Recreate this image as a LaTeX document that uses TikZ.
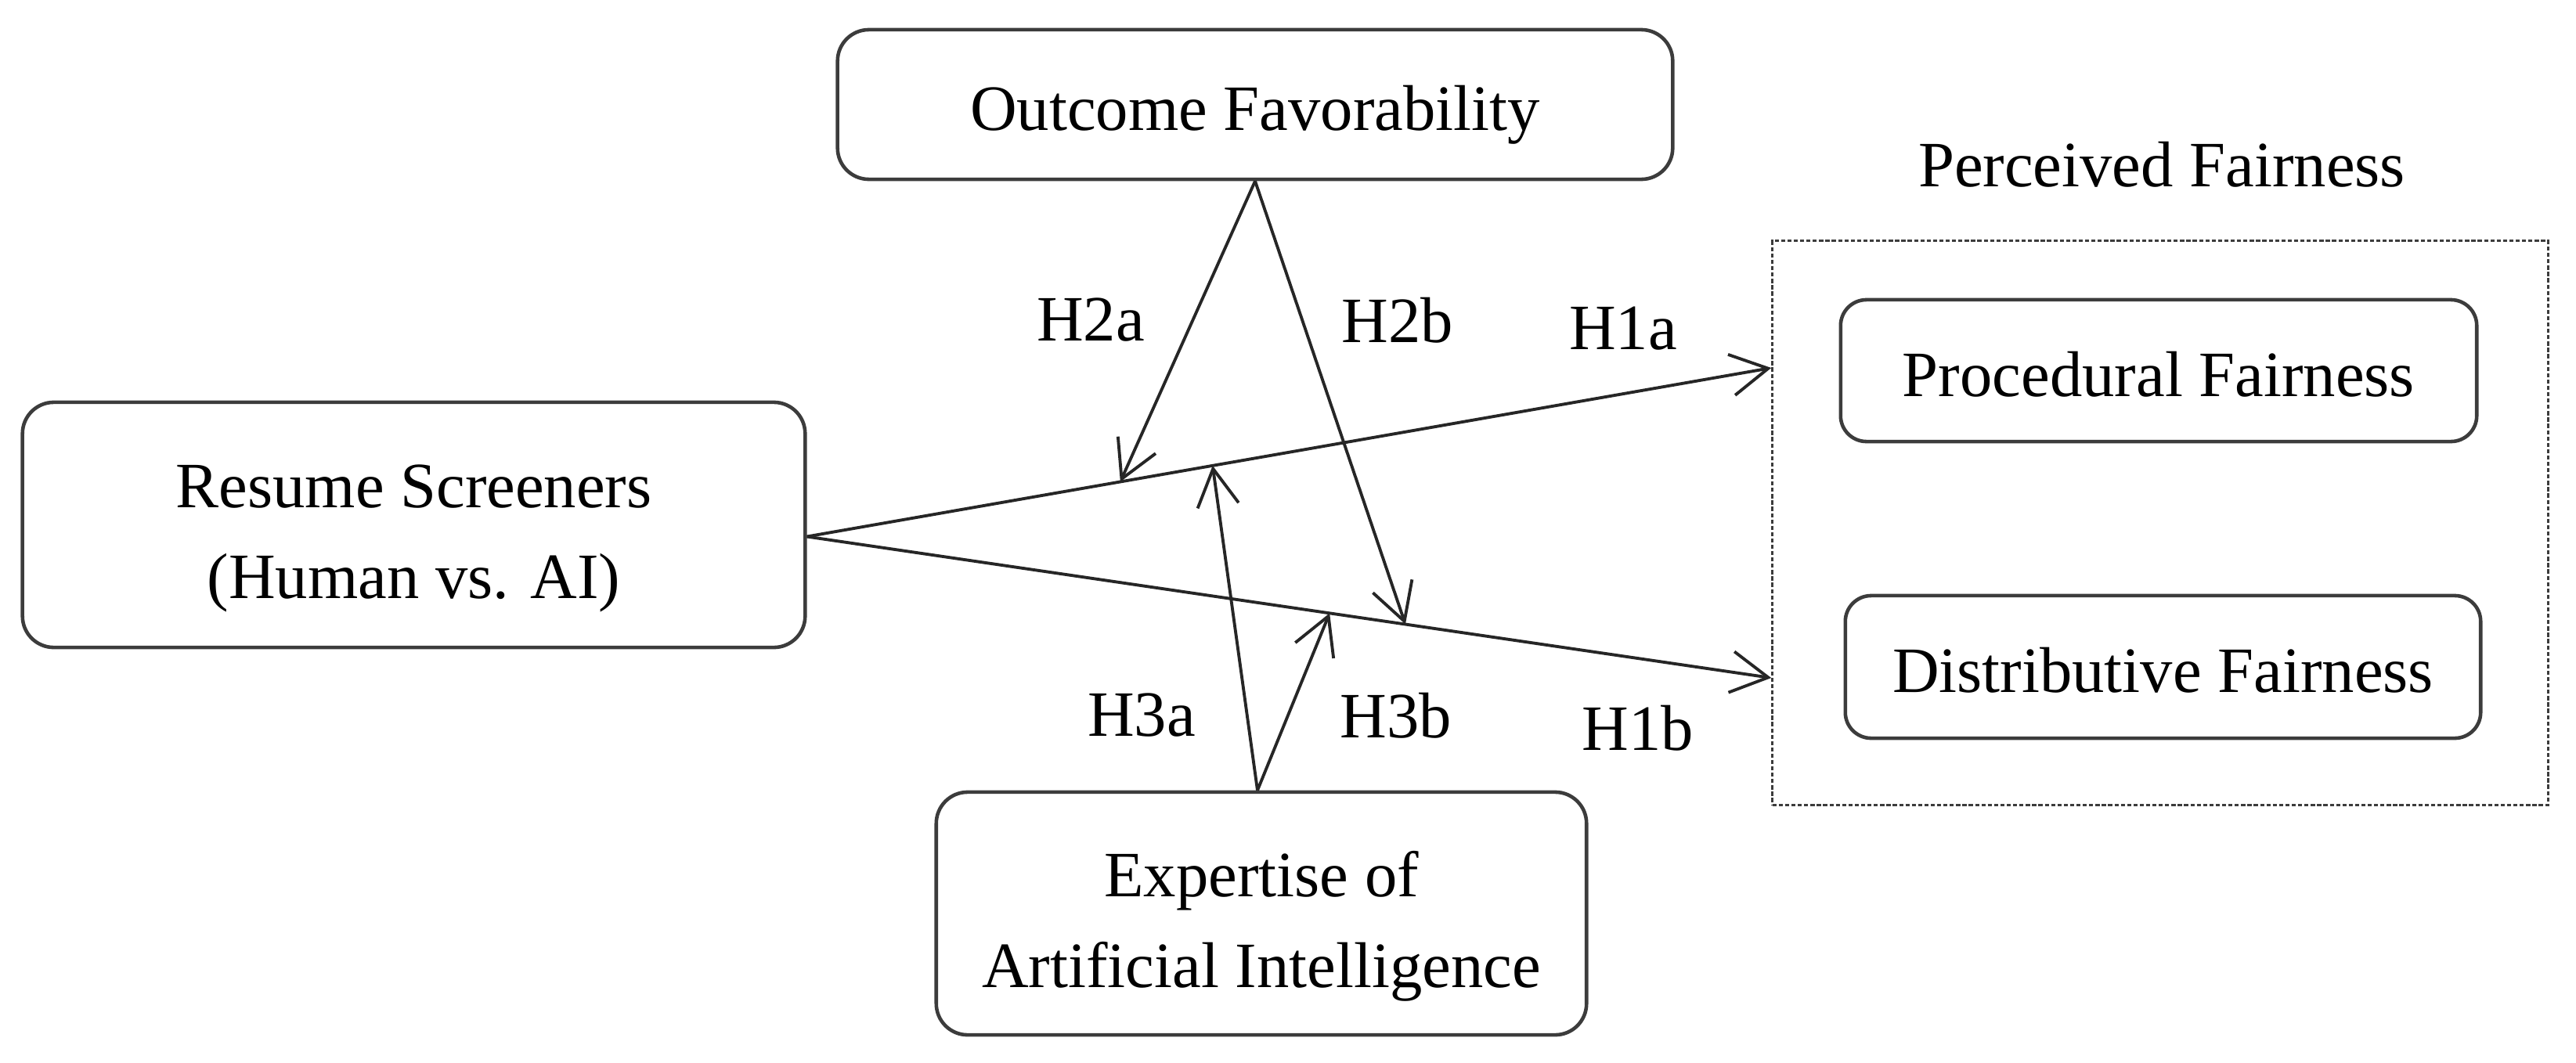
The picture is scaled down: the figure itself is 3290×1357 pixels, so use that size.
\documentclass[tikz,border=0pt]{standalone}
\usepackage{fontspec}
\setmainfont{Liberation Serif}
\usetikzlibrary{arrows.meta,calc}
\definecolor{edgegray}{HTML}{3C3C3C}
\begin{document}
\tikzset{
  box/.style={draw=edgegray, line width=1.3pt, rounded corners=0.4cm, align=center, inner sep=0pt,
    font=\fontsize{23.5}{33}\selectfont},
  onebox/.style={box, text height=18.5pt, text depth=0pt},
  twobox/.style={box, text height=53.5pt, text depth=0pt},
  smallbox/.style={onebox, rounded corners=0.33cm},
  groupbox/.style={draw=edgegray, line width=0.85pt, dash pattern=on 1.5pt off 0.8pt, inner sep=0pt},
  lbl/.style={font=\fontsize{23.5}{28}\selectfont, inner sep=0pt},
  arr/.style={draw=black!85, line width=1.1pt, -{Straight Barb[length=13.5pt,width=15pt]}},
}
\begin{tikzpicture}[x=0.01cm,y=-0.01cm]
\useasboundingbox (0,0) rectangle (3290,1357);
% boxes
\node[onebox, minimum width=10.66cm, minimum height=1.91cm] (OF) at (1603,133.5) {Outcome Favorability};
\node[twobox, minimum width=9.99cm, minimum height=3.13cm] (RS) at (528.5,670.5) {Resume Screeners\\(Human vs. AI)};
\node[twobox, minimum width=8.30cm, minimum height=3.10cm] (EX) at (1611,1167) {Expertise of\\Artificial Intelligence};
\node[groupbox, minimum width=9.90cm, minimum height=7.20cm] (PF) at (2759,668) {};
\node[smallbox, minimum width=8.12cm, minimum height=1.81cm] (PROC) at (2757,473.5) {Procedural Fairness};
\node[smallbox, minimum width=8.11cm, minimum height=1.82cm] (DIST) at (2762.5,852) {Distributive Fairness};
\node[lbl] (PFlabel) at (2761,210) {Perceived Fairness};
% connector coordinates
\coordinate (src) at ($(RS.east)+(0,15)$);
\coordinate (h1aend) at ($(PF.west)+(0,-198)$);
\coordinate (h1bend) at ($(PF.west)+(0,198)$);
\coordinate (h2atip) at ($(src)!0.325!(h1aend)$);
\coordinate (h3atip) at ($(src)!0.4207!(h1aend)$);
\coordinate (h2btip) at ($(src)!0.6206!(h1bend)$);
\coordinate (h3btip) at ($(src)!0.542!(h1bend)$);
\coordinate (ofapex) at (OF.south);
\coordinate (exapex) at ($(EX.north)+(-5,0)$);
% connectors
\draw[arr] (src) -- (h1aend);
\draw[arr] (src) -- (h1bend);
\draw[arr] (ofapex) -- (h2atip);
\draw[arr] (ofapex) -- (h2btip);
\draw[arr] (exapex) -- (h3atip);
\draw[arr] (exapex) -- (h3btip);
% labels
\node[lbl] (H2a) at (1393,409) {H2a};
\node[lbl] (H2b) at (1785,409) {H2b};
\node[lbl] (H1a) at (2073,420) {H1a};
\node[lbl] (H3a) at (1458,914) {H3a};
\node[lbl] (H3b) at (1783,914) {H3b};
\node[lbl] (H1b) at (2092,930) {H1b};
\end{tikzpicture}
\end{document}
